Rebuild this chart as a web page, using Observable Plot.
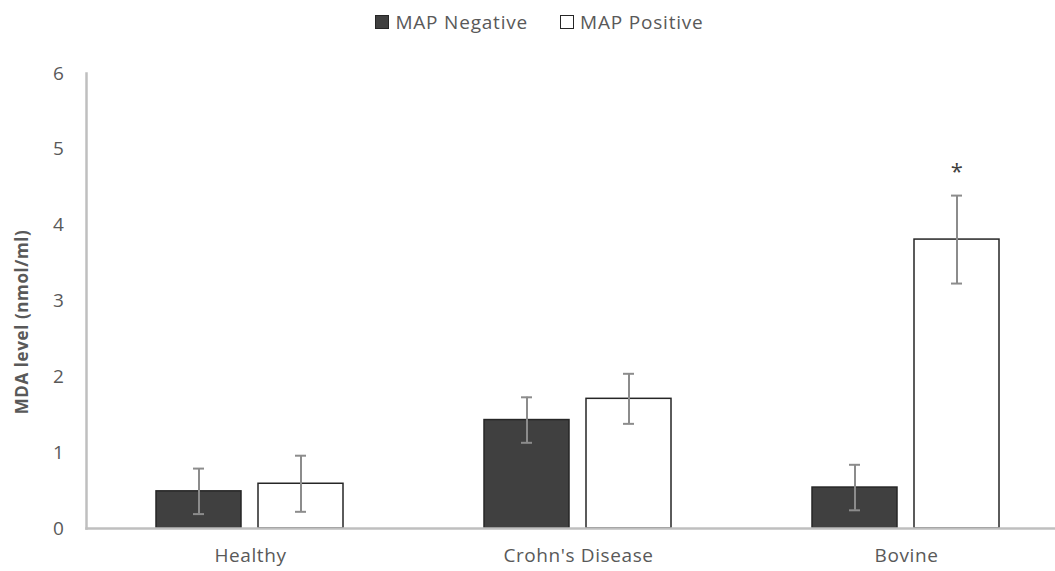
<!DOCTYPE html>
<html>
<head>
<meta charset="utf-8">
<script src="https://cdn.jsdelivr.net/npm/d3@7"></script>
<script src="https://cdn.jsdelivr.net/npm/@observablehq/plot@0.6"></script>
<style>
  html, body { margin: 0; padding: 0; background: #fff; }
  #legend { height: 40px; box-sizing: border-box; padding-top: 3px; display: flex; justify-content: center; align-items: center;
    font-family: "Open Sans", sans-serif; font-size: 19px; letter-spacing: 0.8px; color: #595959; padding-left: 24px; }
  .item { display: flex; align-items: center; margin: 0 16px; }
  .sw { width: 12px; height: 12px; border: 1.5px solid #262626; margin-right: 6px; }
  svg { display: block; }
</style>
</head>
<body>
<div id="legend"></div>
<div id="chart"></div>
<script>
const categories = ["Healthy", "Crohn's Disease", "Bovine"];
const series = ["MAP Negative", "MAP Positive"];
const negativeValues = [0.49, 1.43, 0.54];
const positiveValues = [0.59, 1.71, 3.81];
const negativeErrors = [0.30, 0.30, 0.30];
const positiveErrors = [0.37, 0.33, 0.58];
const yTicks = [0, 1, 2, 3, 4, 5, 6];
const seriesColors = ["#404040", "#ffffff"];
const annotations = [{category: "Bovine", series: "MAP Positive", label: "*"}];
const yTitle = "MDA level (nmol/ml)";

const rows = categories.flatMap((c, i) => [
  {category: c, series: series[0], value: negativeValues[i], err: negativeErrors[i]},
  {category: c, series: series[1], value: positiveValues[i], err: positiveErrors[i]}
]);
const annRows = annotations.map(a => {
  const r = rows.find(d => d.category === a.category && d.series === a.series);
  return {...a, top: r.value + r.err};
});

// legend
const legend = document.getElementById("legend");
series.forEach((s, i) => {
  const it = document.createElement("div"); it.className = "item";
  const sw = document.createElement("div"); sw.className = "sw"; sw.style.background = seriesColors[i];
  const tx = document.createElement("span"); tx.textContent = s;
  it.append(sw, tx); legend.append(it);
});

const chart = Plot.plot({
  width: 1055,
  height: 531,
  marginTop: 33,
  marginBottom: 43,
  marginLeft: 86,
  marginRight: -15,
  style: {fontFamily: "Open Sans, sans-serif", fontSize: "19px", color: "#595959", background: "#fff", letterSpacing: "0.6px"},
  fx: {domain: categories, padding: 0, label: null},
  x: {domain: series, paddingInner: 0.165, paddingOuter: 0.675, axis: null},
  y: {domain: [0, 6]},
  color: {domain: series, range: seriesColors},
  marks: [
    Plot.barY(rows, {fx: "category", x: "series", y: "value", fill: "series", stroke: "#262626", strokeWidth: 1.5}),
    Plot.ruleX(rows, {fx: "category", x: "series", y1: d => d.value - d.err, y2: d => d.value + d.err, stroke: "#8c8c8c", strokeWidth: 2}),
    Plot.tickY(rows, {fx: "category", x: "series", y: d => d.value - d.err, stroke: "#8c8c8c", strokeWidth: 2, insetLeft: 37, insetRight: 37}),
    Plot.tickY(rows, {fx: "category", x: "series", y: d => d.value + d.err, stroke: "#8c8c8c", strokeWidth: 2, insetLeft: 37, insetRight: 37}),
    Plot.text(annRows, {fx: "category", x: "series", y: "top", text: "label", dy: -24, fontSize: 22, fill: "#404040"}),
    Plot.frame({anchor: "bottom", facet: "super", stroke: "#bfbfbf", strokeWidth: 2.5}),
    Plot.frame({anchor: "left", facet: "super", stroke: "#bfbfbf", strokeWidth: 2.5}),
    Plot.axisY({ticks: yTicks, tickFormat: d => String(d), tickSize: 0, tickPadding: 22, label: null, fill: "#595959", fontSize: 19}),
    Plot.axisFx({anchor: "bottom", tickSize: 0, tickPadding: 20, label: null, fill: "#595959", fontSize: 19}),
    Plot.text([yTitle], {facet: "super", frameAnchor: "left", textAnchor: "middle", rotate: -90, dx: -64, dy: 21, fontWeight: "bold", fontSize: 17, fill: "#595959"})
  ]
});
document.getElementById("chart").append(chart);
</script>
</body>
</html>
